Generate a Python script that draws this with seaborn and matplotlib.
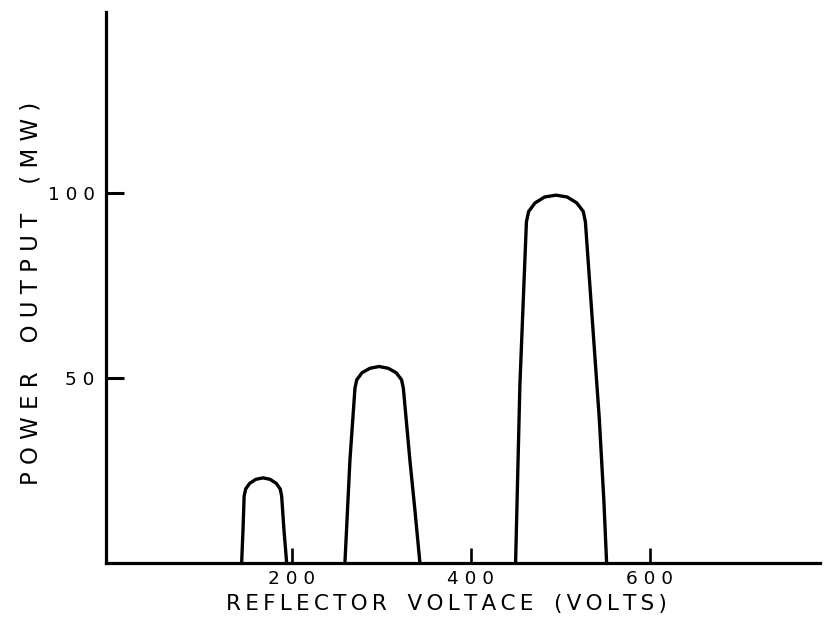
import matplotlib
matplotlib.use("Agg")
import matplotlib.pyplot as plt
import numpy as np
import pandas as pd
import seaborn as sns

# Reflector-mode curves of a reflex klystron: power output vs reflector voltage
mode1_voltage = [143.8, 145.3, 146.6, 148.3, 152.7, 159.6, 167.6, 175.6, 182.5, 186.9, 188.5, 191.1, 194.1]
mode1_power   = [0.0,   8.9,   18.1,  20.0,  21.5,  22.6,  23.0,  22.6,  21.5,  20.0,  18.1,  8.9,   0.0]

mode2_voltage = [259.2, 264.8, 270.4, 272.4, 278.3, 287.0, 297.4, 307.8, 316.5, 322.5, 324.5, 331.8, 337.4, 343.0]
mode2_power   = [0.0,   27.8,  47.2,  49.5,  51.4,  52.6,  53.1,  52.6,  51.4,  49.5,  47.2,  27.8,  14.3,  0.0]

mode3_voltage = [449.9, 454.7, 462.0, 464.5, 471.6, 482.3, 495.0, 507.6, 518.3, 525.5, 527.9, 535.5, 543.4, 548.6, 551.6]
mode3_power   = [0.0,   48.1,  92.2,  95.0,  97.3,  98.9,  99.4,  98.9,  97.3,  95.0,  92.2,  66.1,  39.1,  16.6,  0.0]

x_ticks = [200, 400, 600]
x_tick_labels = ["2 0 0", "4 0 0", "6 0 0"]
y_ticks = [50, 100]
y_tick_labels = ["5 0", "1 0 0"]

x_title_words = ["REFLECTOR", "VOLTACE", "(VOLTS)"]

modes = pd.concat([
    pd.DataFrame({"voltage": mode1_voltage, "power": mode1_power, "mode": "1"}),
    pd.DataFrame({"voltage": mode2_voltage, "power": mode2_power, "mode": "2"}),
    pd.DataFrame({"voltage": mode3_voltage, "power": mode3_power, "mode": "3"}),
], ignore_index=True)

sns.set_theme(style="white")
plt.rcParams["font.family"] = ["DejaVu Sans"]

fig = plt.figure(figsize=(8.24, 6.24), dpi=100)
ax = fig.add_axes([0.1286, 0.0978, 0.8665, 0.883])

sns.lineplot(data=modes, x="voltage", y="power", units="mode", estimator=None,
             sort=False, color="black", linewidth=2.4, ax=ax)

ax.set_xlim(-7.8, 790)
ax.set_ylim(0, 148.9)

for side in ("top", "right"):
    ax.spines[side].set_visible(False)
for side in ("left", "bottom"):
    ax.spines[side].set_color("black")
    ax.spines[side].set_linewidth(2.3)

ax.set_xticks(x_ticks)
ax.set_xticklabels(x_tick_labels)
ax.set_yticks(y_ticks)
ax.set_yticklabels(y_tick_labels)
ax.tick_params(axis="x", direction="in", length=11, width=1.9, color="black",
               pad=5, labelsize=13.3, labelcolor="black", bottom=True)
ax.tick_params(axis="y", direction="in", length=13, width=2.2, color="black",
               pad=8, labelsize=13.3, labelcolor="black", left=True)

# letter-spaced axis title (thin spaces between letters)
x_title = "   ".join("\u2009".join(word) for word in x_title_words)
ax.set_xlabel(x_title, fontsize=15.5, color="black")
ax.xaxis.set_label_coords(0.477, -0.056)
ax.set_ylabel("P O W E R    O U T P U T    ( M W )",
              fontsize=16.5, color="black")
ax.yaxis.set_label_coords(-0.089, 0.49)

fig.savefig("out.png", dpi=100, facecolor="white")
